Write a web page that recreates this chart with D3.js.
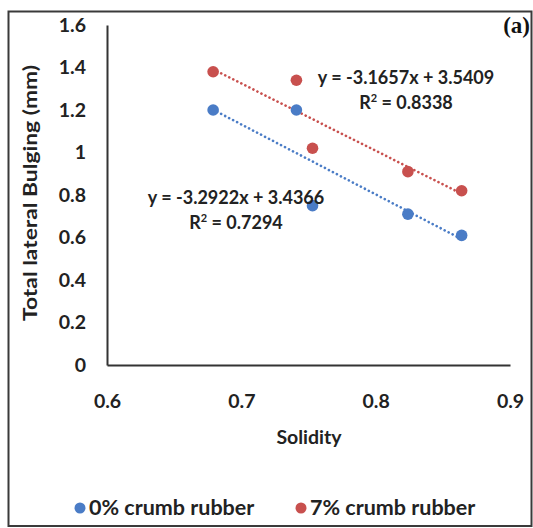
<!DOCTYPE html>
<html>
<head>
<meta charset="utf-8">
<script src="https://cdn.jsdelivr.net/npm/d3@7"></script>
<style>
  html, body { margin: 0; padding: 0; background: #fff; }
  svg { display: block; font-family: Lato, "Open Sans", sans-serif; }
</style>
</head>
<body>
<svg id="chart" width="533" height="528"></svg>
<script>
// Solidity vs. total lateral bulging for two crumb-rubber contents
const solidity = [0.679, 0.741, 0.753, 0.824, 0.864];
const bulging0 = [1.20, 1.20, 0.75, 0.71, 0.61];
const bulging7 = [1.38, 1.34, 1.02, 0.91, 0.82];
const seriesNames = ["0% crumb rubber", "7% crumb rubber"];
// Linear trendlines: [slope, intercept, R²]
const fit0 = [-3.2922, 3.4366, 0.7294];
const fit7 = [-3.1657, 3.5409, 0.8338];
const xTicks = [0.6, 0.7, 0.8, 0.9];
const yTicks = [0, 0.2, 0.4, 0.6, 0.8, 1, 1.2, 1.4, 1.6];

const colors = ["#4a7cc6", "#c8504e"];
const ink = "#222";
const svg = d3.select("#chart");

// outer frame
svg.append("rect")
  .attr("x", 8.5).attr("y", 11.5)
  .attr("width", 523).attr("height", 514.5)
  .attr("fill", "none").attr("stroke", "#3a3a3a").attr("stroke-width", 2);

const x = d3.scaleLinear().domain([0.6, 0.9]).range([107, 510]);
const y = d3.scaleLinear().domain([0, 1.6]).range([365, 25]);

// axes
const fmt = d => d === 0 || d === 1 ? String(d) : d3.format(".1f")(d);
const gx = svg.append("g").attr("transform", `translate(0,${y(0)})`)
  .call(d3.axisBottom(x).tickValues(xTicks).tickSize(0).tickFormat(fmt));
const gy = svg.append("g").attr("transform", `translate(${x(0.6)},0)`)
  .call(d3.axisLeft(y).tickValues(yTicks).tickSize(0).tickPadding(21).tickFormat(fmt));
[gx, gy].forEach(g => {
  g.select(".domain").attr("stroke", "#333").attr("stroke-width", 2);
  g.selectAll("text").attr("font-size", 19.5).attr("font-weight", "bold")
    .attr("fill", ink).attr("font-family", "Lato, sans-serif");
});
gx.selectAll("text").attr("y", 43).attr("dy", 0);

// axis titles
svg.append("text")
  .attr("x", 309).attr("y", 444).attr("text-anchor", "middle")
  .attr("font-size", 19.5).attr("font-weight", "bold").attr("fill", ink)
  .text("Solidity");
svg.append("text")
  .attr("transform", "translate(37,193) rotate(-90)")
  .attr("text-anchor", "middle")
  .attr("font-size", 19).attr("font-weight", "bold").attr("fill", ink)
  .attr("textLength", 256).attr("lengthAdjust", "spacingAndGlyphs")
  .text("Total lateral Bulging (mm)");

// panel tag
svg.append("text")
  .attr("x", 530).attr("y", 33).attr("text-anchor", "end")
  .attr("font-family", "'Liberation Serif', serif")
  .attr("font-size", 23).attr("font-weight", "bold").attr("fill", "#111")
  .text("(a)");

// trendlines
const fits = [fit0, fit7];
const xExt = d3.extent(solidity);
fits.forEach((f, i) => {
  svg.append("line")
    .attr("x1", x(xExt[0])).attr("y1", y(f[0] * xExt[0] + f[1]))
    .attr("x2", x(xExt[1])).attr("y2", y(f[0] * xExt[1] + f[1]))
    .attr("stroke", colors[i]).attr("stroke-width", 2.6)
    .attr("stroke-dasharray", "0.1 4.4").attr("stroke-linecap", "round");
});

// points
[bulging0, bulging7].forEach((vals, i) => {
  svg.append("g").selectAll("circle")
    .data(vals.map((v, j) => [solidity[j], v]))
    .join("circle")
    .attr("cx", d => x(d[0])).attr("cy", d => y(d[1]))
    .attr("r", 5.8).attr("fill", colors[i]);
});

// trendline equations
const eq = (f) => `y = ${f[0].toFixed(4)}x + ${f[1].toFixed(4)}`;
function eqLabel(f, cx, cy) {
  const g = svg.append("g").attr("font-size", 18).attr("font-weight", "bold").attr("fill", ink);
  g.append("text").attr("x", cx).attr("y", cy).attr("text-anchor", "middle").text(eq(f));
  const r = g.append("text").attr("x", cx).attr("y", cy + 25).attr("text-anchor", "middle");
  r.append("tspan").text("R");
  r.append("tspan").attr("dy", -7).attr("font-size", 11).text("2");
  r.append("tspan").attr("dy", 7).text(` = ${f[2].toFixed(4)}`);
}
eqLabel(fit7, 406, 84);
eqLabel(fit0, 236, 204);

// legend
const legendX = [80, 301];
seriesNames.forEach((name, i) => {
  svg.append("circle").attr("cx", legendX[i]).attr("cy", 508).attr("r", 5.5).attr("fill", colors[i]);
  svg.append("text").attr("x", legendX[i] + 9).attr("y", 515)
    .attr("font-size", 21.5).attr("font-weight", "bold").attr("fill", ink)
    .text(name);
});
</script>
</body>
</html>
